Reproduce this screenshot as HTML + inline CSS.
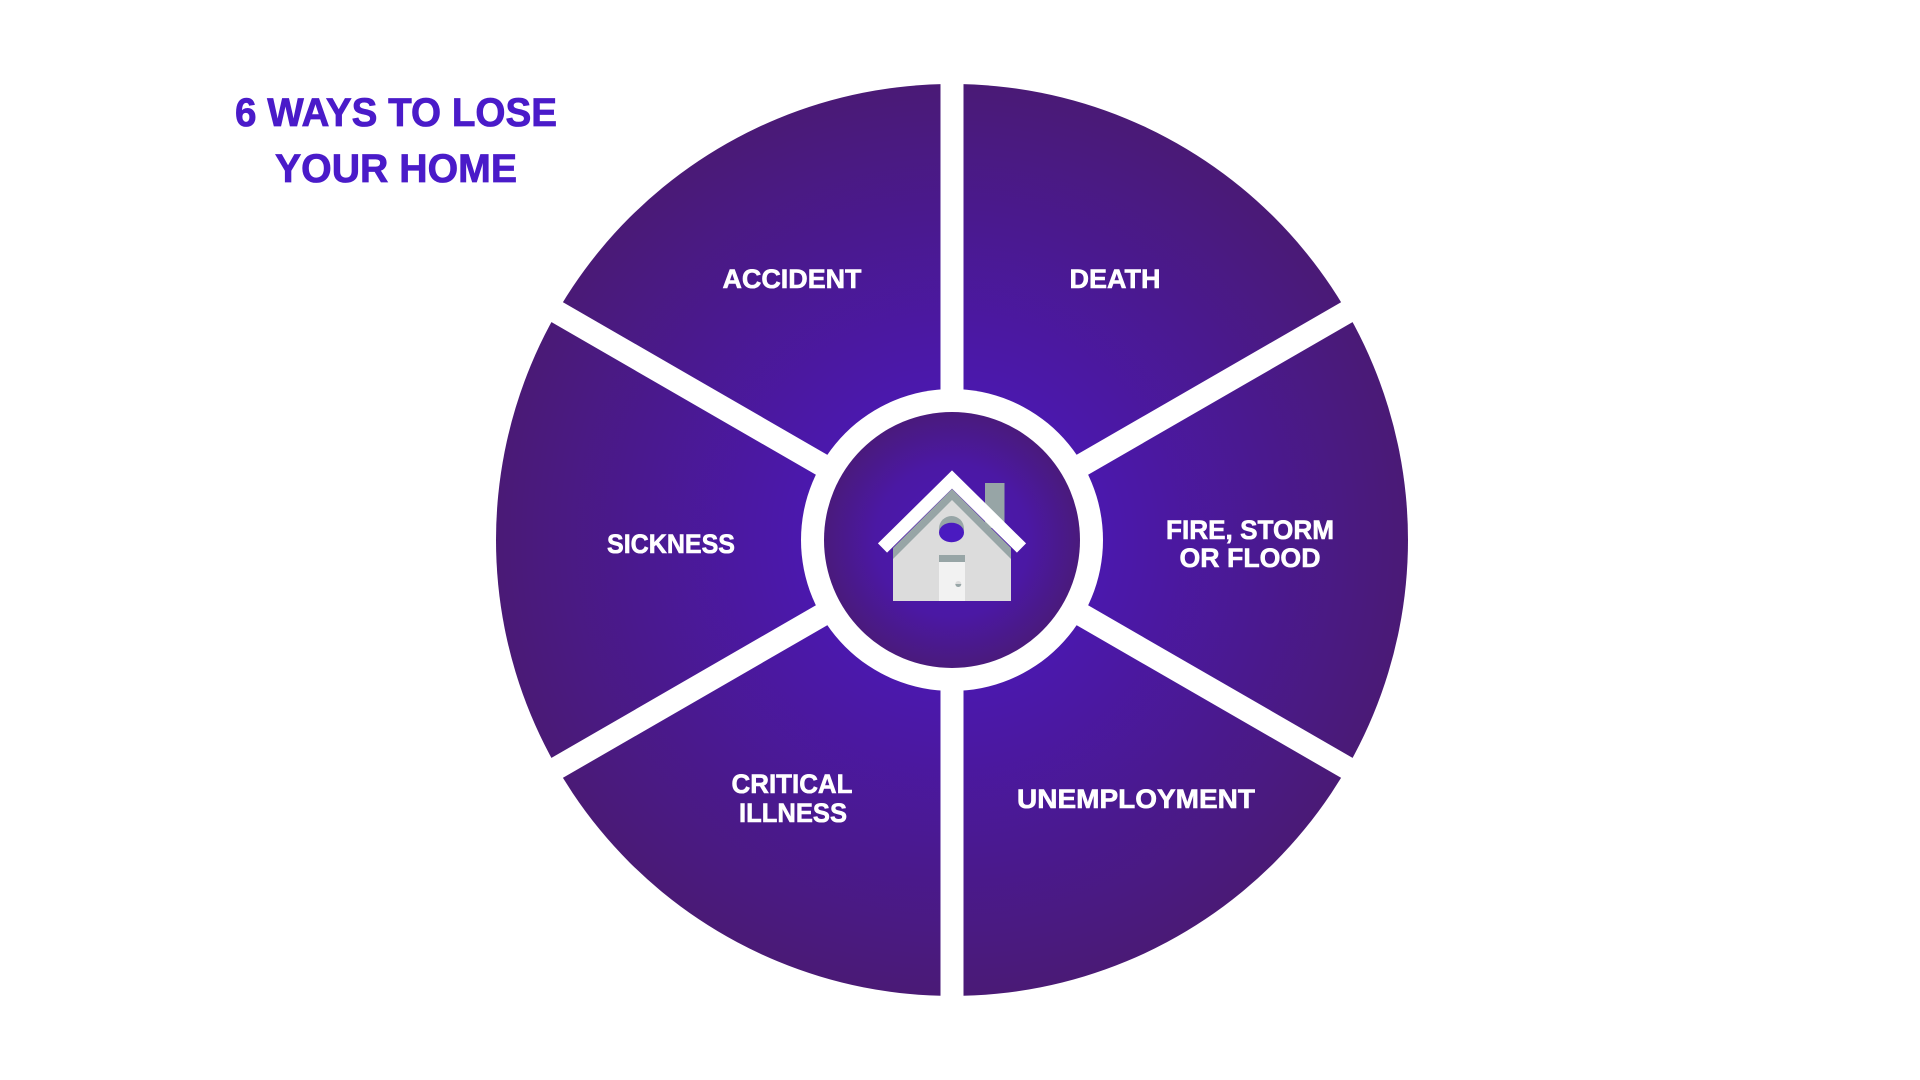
<!DOCTYPE html>
<html>
<head>
<meta charset="utf-8">
<style>
  html, body { margin:0; padding:0; background:#ffffff; }
  body { width:1920px; height:1080px; overflow:hidden; }
  svg { display:block; }
  .lbl { font-family:"Liberation Sans", Arial, sans-serif; font-weight:bold; font-size:27px; fill:#ffffff; stroke:#ffffff; stroke-width:0.6px; }
  .ttl { font-family:"Liberation Sans", Arial, sans-serif; font-weight:bold; font-size:40px; fill:#4a1bc9; stroke:#4a1bc9; stroke-width:0.8px; }
</style>
</head>
<body>
<svg width="1920" height="1080" viewBox="0 0 1920 1080" xmlns="http://www.w3.org/2000/svg">
  <defs>
    <radialGradient id="segGrad" gradientUnits="userSpaceOnUse" cx="952" cy="540" r="456">
      <stop offset="0" stop-color="#4d16c2"/>
      <stop offset="0.33" stop-color="#4b18ad"/>
      <stop offset="1" stop-color="#4a1a76"/>
    </radialGradient>
    <radialGradient id="innerGrad" gradientUnits="userSpaceOnUse" cx="952" cy="540" r="128">
      <stop offset="0" stop-color="#4c17b6"/>
      <stop offset="0.6" stop-color="#4b18a4"/>
      <stop offset="1" stop-color="#4a1a7c"/>
    </radialGradient>
  </defs>

  <rect x="0" y="0" width="1920" height="1080" fill="#ffffff"/>

  <!-- Title -->
  <text class="ttl" x="396" y="126" text-anchor="middle" textLength="322" lengthAdjust="spacingAndGlyphs">6 WAYS TO LOSE</text>
  <text class="ttl" x="396" y="182" text-anchor="middle" textLength="242" lengthAdjust="spacingAndGlyphs">YOUR HOME</text>

  <!-- Outer wheel -->
  <circle cx="952" cy="540" r="456" fill="url(#segGrad)"/>

  <!-- Gaps -->
  <g stroke="#ffffff" stroke-width="23" stroke-linecap="butt">
    <line x1="952" y1="60" x2="952" y2="1020"/>
    <line x1="952" y1="540" x2="1432" y2="263"/>
    <line x1="952" y1="540" x2="472" y2="817"/>
    <line x1="952" y1="540" x2="472" y2="263"/>
    <line x1="952" y1="540" x2="1432" y2="817"/>
  </g>

  <!-- White ring -->
  <circle cx="952" cy="540" r="151" fill="#ffffff"/>
  <!-- Inner circle -->
  <circle cx="952" cy="540" r="128" fill="url(#innerGrad)"/>

  <!-- House icon -->
  <rect x="985" y="483" width="19.5" height="45" fill="#97a5a6"/>
  <polygon points="893,548 952,489 1011,548 1011,601 893,601" fill="#97a5a6"/>
  <polygon points="893,559 952,500 1011,559 1011,601 893,601" fill="#dcdcdc"/>
  <circle cx="951.5" cy="528.5" r="12.5" fill="#97a5a6"/>
  <ellipse cx="951.5" cy="532.5" rx="12.5" ry="9.8" fill="#4a1ac0"/>
  <rect x="939" y="555" width="26" height="7" fill="#97a5a6"/>
  <rect x="939" y="562" width="26" height="39" fill="#f2f2f2"/>
  <circle cx="958.3" cy="584" r="3" fill="#dcdcdc"/>
  <path d="M955.3,584 a3,3 0 0 0 6,0 z" fill="#97a5a6"/>
  <polyline points="882.5,548 952,479.5 1021.5,548" fill="none" stroke="#ffffff" stroke-width="13" stroke-linejoin="miter" stroke-linecap="butt"/>

  <!-- Labels -->
  <text class="lbl" x="792" y="288" text-anchor="middle" textLength="139" lengthAdjust="spacingAndGlyphs">ACCIDENT</text>
  <text class="lbl" x="1115" y="288" text-anchor="middle" textLength="91" lengthAdjust="spacingAndGlyphs">DEATH</text>
  <text class="lbl" x="671" y="553" text-anchor="middle" textLength="128" lengthAdjust="spacingAndGlyphs">SICKNESS</text>
  <text class="lbl" x="1250" y="539" text-anchor="middle" textLength="168" lengthAdjust="spacingAndGlyphs">FIRE, STORM</text>
  <text class="lbl" x="1250" y="567" text-anchor="middle" textLength="141" lengthAdjust="spacingAndGlyphs">OR FLOOD</text>
  <text class="lbl" x="792" y="793" text-anchor="middle" textLength="121" lengthAdjust="spacingAndGlyphs">CRITICAL</text>
  <text class="lbl" x="793" y="822" text-anchor="middle" textLength="108" lengthAdjust="spacingAndGlyphs">ILLNESS</text>
  <text class="lbl" x="1136" y="808" text-anchor="middle" textLength="238" lengthAdjust="spacingAndGlyphs">UNEMPLOYMENT</text>
</svg>
</body>
</html>
